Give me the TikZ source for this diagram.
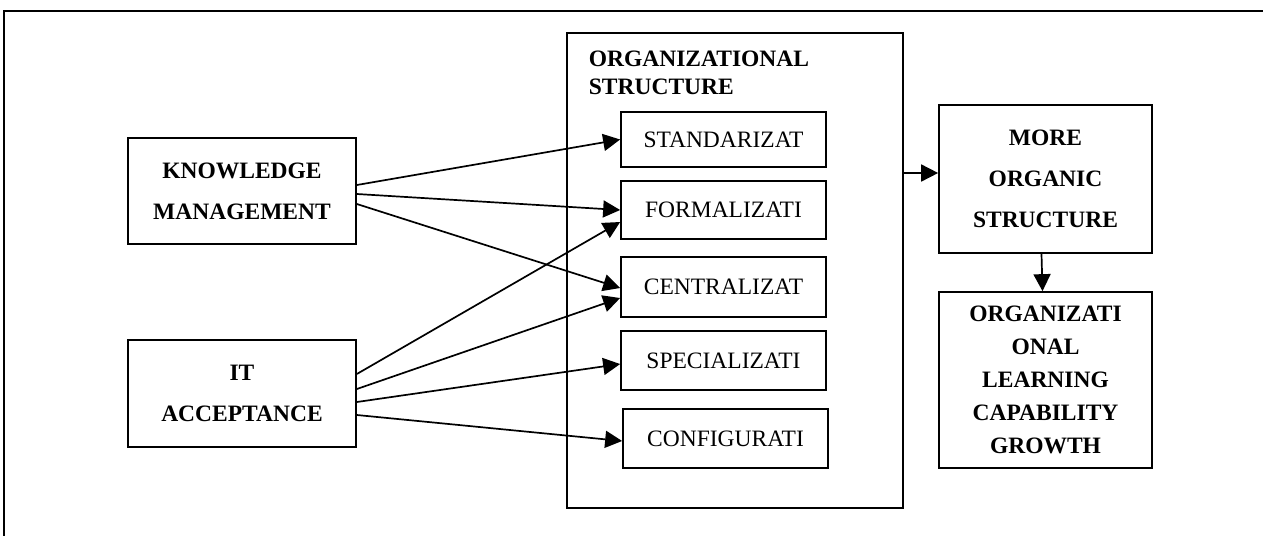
\documentclass[tikz,border=0pt]{standalone}
\usepackage{fontspec}
\setmainfont{Liberation Serif}
\usetikzlibrary{arrows.meta}

\begin{document}
\begin{tikzpicture}[x=1pt, y=-1pt, line width=1.7pt,
  bigbox/.style={draw, inner sep=0pt, align=center, font=\fontsize{23.5}{41}\selectfont\bfseries},
  subbox/.style={draw, inner sep=0pt, minimum width=205pt, minimum height=58pt, font=\fontsize{23.5}{28}\selectfont},
  arr/.style={-{Triangle[length=17pt,width=17pt]}}]
\useasboundingbox (0,0) rectangle (1263,536);
% Frame
\draw (1263,11) -- (4,11) -- (4,536);
% Left boxes
\node[bigbox, minimum width=228pt, minimum height=106pt] (km) at (242,191) {KNOWLEDGE\\MANAGEMENT};
\node[bigbox, minimum width=228pt, minimum height=107pt] (itacc) at (242,393.5) {IT\\ACCEPTANCE};
% Organizational structure
\node[draw, inner sep=0pt, minimum width=336pt, minimum height=475pt] (orgbox) at (735,270.5) {};
\node[anchor=north west, inner sep=0pt, align=left, font=\fontsize{23.5}{28}\selectfont\bfseries] (orgtitle) at (588,50) {ORGANIZATIONAL\\STRUCTURE};
\node[subbox, minimum height=55pt] (stdz) at (723.5,139.5) {STANDARIZAT};
\node[subbox] (frml) at (723.5,210) {FORMALIZATI};
\node[subbox, minimum height=60pt] (cntr) at (723.5,287) {CENTRALIZAT};
\node[subbox, minimum height=59pt] (spcl) at (723.5,360.5) {SPECIALIZATI};
\node[subbox, minimum height=59pt] (cnfg) at (725.5,438.5) {CONFIGURATI};
% Right boxes
\node[bigbox, minimum width=213pt, minimum height=148pt] (more) at (1045.5,179) {MORE\\ORGANIC\\STRUCTURE};
\node[bigbox, minimum width=213pt, minimum height=176pt, font=\fontsize{23.5}{33}\selectfont\bfseries] (olcg) at (1045.5,380) {ORGANIZATI\\ONAL\\LEARNING\\CAPABILITY\\GROWTH};
% Arrows
\draw[arr] ([yshift=6pt]km.east) -- (stdz.west);
\draw[arr] ([yshift=-3pt]km.east) -- (frml.west);
\draw[arr] ([yshift=-13pt]km.east) -- ([yshift=-1pt]cntr.west);
\draw[arr] ([yshift=19.5pt]itacc.east) -- ([yshift=-12pt]frml.west);
\draw[arr] ([yshift=4.5pt]itacc.east) -- ([yshift=-11pt]cntr.west);
\draw[arr] ([yshift=-8.5pt]itacc.east) -- ([yshift=-3.5pt]spcl.west);
\draw[arr] ([yshift=-21.5pt]itacc.east) -- ([yshift=-2.5pt]cnfg.west);
\coordinate (morein) at ([yshift=6pt]more.west);
\draw[arr] (orgbox.east |- morein) -- (morein);
\draw[arr] ([xshift=-4pt]more.south) -- ([xshift=-3pt]olcg.north);
\end{tikzpicture}
\end{document}
